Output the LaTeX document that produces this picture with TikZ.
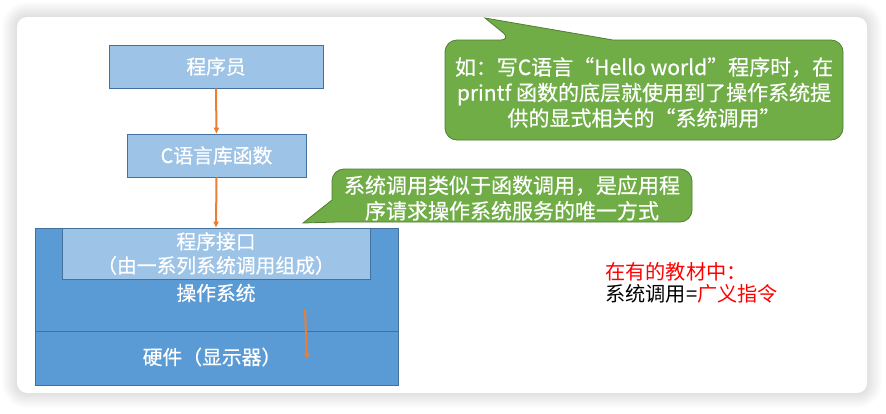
\documentclass[tikz,border=0pt]{standalone}
\usepackage{fontspec}
\setmainfont{Noto Sans CJK SC}
\newfontfamily\heavycjk[FakeBold=0.4]{Noto Sans CJK SC}
\usetikzlibrary{arrows.meta}
\definecolor{lightblue}{HTML}{9DC3E6}
\definecolor{midblue}{HTML}{5B9BD5}
\definecolor{edgeblue}{HTML}{41719C}
\definecolor{greenfill}{HTML}{70AD47}
\definecolor{greenedge}{HTML}{507E32}
\definecolor{orangeline}{HTML}{ED7D31}
\definecolor{redtext}{HTML}{FF0000}
\begin{document}
\begin{tikzpicture}[x=1pt,y=-1pt,
  lbox/.style={draw=edgeblue, line width=0.8pt, fill=lightblue, text=white, inner sep=0pt,
    font=\heavycjk\fontsize{19.8}{24}\selectfont, align=center},
  obox/.style={draw=edgeblue, line width=0.8pt, fill=midblue, inner sep=0pt},
  wtext/.style={text=white, inner sep=0pt, font=\heavycjk\fontsize{19.8}{24}\selectfont, align=center},
  ctext/.style={text=white, inner sep=0pt, font=\heavycjk\fontsize{21}{25.5}\selectfont, align=center},
  callout/.style={draw=greenedge, line width=0.8pt, fill=greenfill},
  oarrow/.style={draw=orangeline, line width=2pt, -{Triangle[length=6pt,width=5pt]}}
]
\useasboundingbox (0,0) rectangle (886,413);
% shadow and card
\fill[white] (0,0) rectangle (886,413);
\foreach \i in {1,...,15}{
  \fill[black, opacity=0.008, rounded corners=10+\i] (17-\i,17-\i) rectangle (867+\i,393+\i);
}
\fill[white, rounded corners=10] (17,17) rectangle (867,393);

% boxes
\node[lbox, minimum width=214pt, minimum height=43pt] (prog) at (216,66.5) {程序员};
\node[lbox, minimum width=179pt, minimum height=43pt] (clib) at (216.5,155.5) {C语言库函数};
\node[obox, minimum width=363pt, minimum height=103pt] (os) at (216.5,279.5) {};
\node[obox, minimum width=363pt, minimum height=54pt] (hw) at (216.5,358) {};
\node[lbox, minimum width=308pt, minimum height=51pt] (api) at (216,253.5) {程序接口\\（由一系列系统调用组成）};
\node[wtext] (ostext) at (216,293) {操作系统};
\node[wtext] (hwtext) at (212,357) {硬件（显示器）};

% arrows
\draw[oarrow] (prog.south) -- (clib.north);
\draw[oarrow] (clib.south) -- (api.north);
\coordinate (s1) at (305,310);
\coordinate (s2) at (307,359);
\draw[oarrow] (s1) -- (s2);

% callout 1
\path[callout] (613,40) [rounded corners=12pt] -- (843,40) -- (843,140) -- (445,140) -- (445,40) -- (512,40) [sharp corners] -- (485,18) -- cycle;
\node[ctext] (c1text) at (644,92.5) {如：写C语言“Hello world”程序时，在\\printf 函数的底层就使用到了操作系统提\\供的显式相关的“系统调用”};

% callout 2
\path[callout] (332,200) [rounded corners=12pt] -- (332,169) -- (692,169) -- (692,222) -- (345,222) [sharp corners] -- (338,222) -- (303,223) -- cycle;
\node[ctext] (c2text) at (512,198) {系统调用类似于函数调用，是应用程\\序请求操作系统服务的唯一方式};

% note
\node[anchor=west, inner sep=0pt, align=left, font=\fontsize{20.2}{22}\selectfont] (note) at (605,283)
  {\textcolor{redtext}{在有的教材中：}\\系统调用=\textcolor{redtext}{广义指令}};
\end{tikzpicture}
\end{document}
